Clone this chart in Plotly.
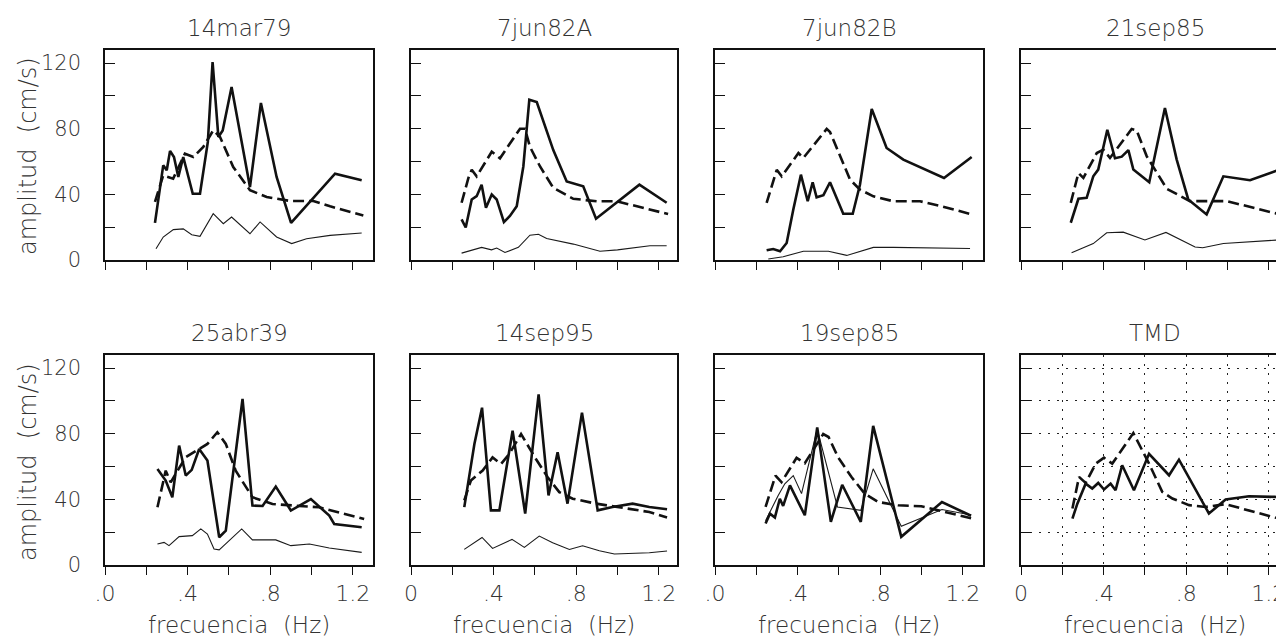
import plotly.graph_objects as go

# ---------------- data (frequency in Hz, amplitude in cm/s) ----------------
titles = ["14mar79", "7jun82A", "7jun82B", "21sep85", "25abr39", "14sep95", "19sep85", "TMD"]

f_14mar79_solid = [0.242, 0.263, 0.282, 0.299, 0.315, 0.334, 0.355, 0.379, 0.425, 0.46, 0.498, 0.521, 0.549, 0.57, 0.613, 0.702, 0.755, 0.831, 0.901, 1.114, 1.243]
a_14mar79_solid = [22.6, 40.4, 57.7, 54.7, 66.5, 62.8, 50.6, 62.8, 40.4, 40.4, 72, 120.7, 75, 79, 105.5, 44.5, 95.7, 50.6, 22.6, 52.6, 48.6]
f_14mar79_dash = [0.242, 0.282, 0.33, 0.387, 0.428, 0.476, 0.524, 0.557, 0.621, 0.702, 0.783, 0.896, 1.009, 1.09, 1.251]
a_14mar79_dash = [35.4, 51.6, 49.6, 64.8, 62.8, 68.9, 79, 75, 56.7, 42.5, 38.4, 36, 36, 32.7, 27.2]
f_14mar79_thin = [0.247, 0.282, 0.331, 0.379, 0.42, 0.46, 0.524, 0.573, 0.613, 0.702, 0.751, 0.831, 0.904, 0.976, 1.09, 1.243]
a_14mar79_thin = [6.9, 14, 18.5, 19, 15.4, 14.4, 28.2, 22.1, 26.2, 16, 23.2, 14, 10, 13, 15, 16.5]

f_7jun82A_solid = [0.245, 0.265, 0.294, 0.318, 0.342, 0.363, 0.391, 0.415, 0.45, 0.479, 0.512, 0.544, 0.573, 0.609, 0.689, 0.754, 0.834, 0.896, 1.106, 1.238]
a_7jun82A_solid = [24.8, 19.8, 36.9, 38.9, 45.9, 31.8, 39.9, 36.9, 23.1, 26.8, 32.8, 57, 97.7, 96.3, 67, 47.9, 44.9, 25.2, 45.9, 34.9]
f_7jun82A_dash = [0.245, 0.278, 0.294, 0.318, 0.391, 0.431, 0.479, 0.528, 0.552, 0.576, 0.625, 0.689, 0.786, 0.899, 0.996, 1.157, 1.245]
a_7jun82A_dash = [34.9, 50, 55, 51, 66, 62, 71, 80, 80, 69, 57, 44, 37.3, 35.8, 35.8, 30.8, 28]
f_7jun82A_thin = [0.245, 0.342, 0.39, 0.415, 0.455, 0.52, 0.576, 0.617, 0.657, 0.786, 0.915, 1.0, 1.157, 1.238]
a_7jun82A_thin = [4.2, 7.7, 6.2, 7.3, 4.6, 7.7, 15.1, 15.7, 13.1, 9.7, 5.3, 6.2, 8.7, 8.7]

f_7jun82B_solid = [0.25, 0.282, 0.315, 0.347, 0.379, 0.416, 0.449, 0.473, 0.492, 0.525, 0.557, 0.621, 0.667, 0.702, 0.759, 0.831, 0.912, 1.109, 1.243]
a_7jun82B_solid = [5.9, 6.7, 5.3, 10.4, 30.7, 52, 35.8, 47.4, 38.2, 39.5, 47.4, 28.2, 28.2, 45.9, 92, 68.3, 61.2, 50, 62.8]
f_7jun82B_dash = [0.25, 0.299, 0.323, 0.404, 0.428, 0.541, 0.557, 0.654, 0.702, 0.767, 0.864, 0.993, 1.09, 1.25]
a_7jun82B_dash = [34.8, 55, 51, 65.2, 62.2, 79.9, 78, 49, 42.9, 38.8, 35.8, 35.8, 33, 27.6]
f_7jun82B_thin = [0.258, 0.33, 0.428, 0.549, 0.638, 0.702, 0.767, 0.864, 1.235]
a_7jun82B_thin = [0.6, 2, 5.3, 5.3, 2.8, 5.3, 7.7, 7.7, 7]

f_21sep85_solid = [0.241, 0.278, 0.318, 0.35, 0.374, 0.418, 0.455, 0.488, 0.52, 0.544, 0.621, 0.697, 0.754, 0.81, 0.899, 0.98, 1.109, 1.235, 1.26]
a_21sep85_solid = [22.7, 37.3, 37.9, 51, 55.1, 79.4, 62, 63, 67, 55.1, 47.4, 92.6, 61.2, 36.9, 27.8, 51, 48.6, 54.1, 55.5]
f_21sep85_dash = [0.241, 0.278, 0.302, 0.367, 0.399, 0.431, 0.536, 0.56, 0.609, 0.706, 0.818, 0.996, 1.235, 1.26]
a_21sep85_dash = [34.8, 53, 50, 65.2, 67.3, 62.2, 79.8, 79, 63.2, 43.4, 35.9, 35.9, 28.4, 27.8]
f_21sep85_thin = [0.245, 0.3, 0.35, 0.415, 0.495, 0.6, 0.702, 0.843, 0.88, 0.98, 1.235, 1.26]
a_21sep85_thin = [4.4, 7.1, 10, 16.6, 17, 12.2, 16.8, 7.9, 7.5, 10.1, 12.2, 12.3]

f_25abr39_solid = [0.254, 0.294, 0.326, 0.359, 0.391, 0.42, 0.456, 0.496, 0.553, 0.585, 0.666, 0.714, 0.763, 0.827, 0.9, 0.997, 1.086, 1.11, 1.243]
a_25abr39_solid = [58.5, 51.5, 41.3, 72.8, 54.5, 58, 70.7, 63.7, 16.9, 21, 101.2, 36.2, 36, 47.8, 33.2, 40.2, 30.1, 25, 23]
f_25abr39_dash = [0.254, 0.278, 0.294, 0.318, 0.391, 0.496, 0.544, 0.585, 0.633, 0.714, 0.811, 0.94, 1.037, 1.255]
a_25abr39_dash = [35.2, 49.4, 57.5, 50.4, 65.7, 73.8, 80.9, 73.8, 57.5, 41.3, 37.2, 36, 35.2, 28]
f_25abr39_thin = [0.254, 0.286, 0.31, 0.359, 0.423, 0.464, 0.496, 0.528, 0.553, 0.662, 0.714, 0.827, 0.9, 0.99, 1.086, 1.243]
a_25abr39_thin = [12.8, 13.8, 11.8, 17.3, 17.9, 22, 18.9, 9.8, 9.2, 22, 15.3, 15.3, 11.8, 12.8, 10.4, 7.7]

f_14sep95_solid = [0.258, 0.307, 0.344, 0.387, 0.428, 0.492, 0.553, 0.618, 0.666, 0.71, 0.758, 0.828, 0.904, 0.976, 1.073, 1.154, 1.24]
a_14sep95_solid = [35.3, 73.7, 95.9, 33.3, 33.3, 81.8, 31.3, 104, 42.4, 68.7, 37.4, 92.9, 33.3, 35.4, 37.4, 35.4, 34]
f_14sep95_dash = [0.258, 0.29, 0.347, 0.395, 0.436, 0.476, 0.533, 0.605, 0.662, 0.718, 0.783, 0.896, 1.154, 1.24]
a_14sep95_dash = [39.4, 51.5, 57.6, 65.6, 61.6, 67.7, 79.8, 64.6, 53.5, 44.4, 40.4, 37.4, 32.3, 29]
f_14sep95_thin = [0.258, 0.344, 0.395, 0.489, 0.549, 0.621, 0.686, 0.767, 0.831, 0.912, 0.985, 1.154, 1.24]
a_14sep95_thin = [9.5, 16.8, 10.1, 15.6, 10.7, 17.6, 13.5, 9.5, 11.7, 8.7, 6.7, 7.5, 8.5]

f_19sep85_solid = [0.245, 0.266, 0.29, 0.314, 0.33, 0.363, 0.435, 0.495, 0.561, 0.616, 0.706, 0.766, 0.902, 1.099, 1.24]
a_19sep85_solid = [25.3, 31.3, 29, 40.4, 36, 48.5, 30.3, 83.9, 26.3, 48.9, 26.3, 84.8, 17.2, 38.4, 30]
f_19sep85_dash = [0.245, 0.293, 0.322, 0.395, 0.435, 0.524, 0.55, 0.596, 0.661, 0.725, 0.79, 0.886, 0.999, 1.24]
a_19sep85_dash = [35.4, 54.5, 50.5, 65.3, 62, 79.8, 78, 65.7, 53.6, 43.5, 38.4, 36.4, 35.8, 28.5]
f_19sep85_thin = [0.245, 0.275, 0.306, 0.338, 0.379, 0.419, 0.495, 0.593, 0.706, 0.766, 0.902, 1.099, 1.24]
a_19sep85_thin = [27, 35, 42.4, 49.5, 54.5, 43.5, 82.8, 35.4, 33.3, 58.6, 23.6, 33.8, 30.5]

f_TMD_solid = [0.249, 0.273, 0.313, 0.345, 0.374, 0.402, 0.434, 0.458, 0.49, 0.547, 0.62, 0.717, 0.765, 0.91, 0.991, 1.104, 1.23, 1.26]
a_TMD_solid = [28.3, 37.4, 49.6, 46.6, 50, 46, 49.6, 45.6, 60.8, 45.6, 67.8, 54.7, 64.2, 31.4, 39.9, 41.9, 41.5, 41.3]
f_TMD_dash = [0.249, 0.281, 0.313, 0.362, 0.402, 0.442, 0.544, 0.62, 0.684, 0.733, 0.814, 0.894, 0.991, 1.104, 1.23, 1.26]
a_TMD_dash = [34.4, 53.7, 50, 61.8, 65.4, 61.8, 80.4, 61.8, 44.6, 40.5, 36.5, 35.4, 37.1, 33, 28.9, 28.2]

x_tick_vals = [0, 0.2, 0.4, 0.6, 0.8, 1.0, 1.2]
x_tick_text_cols = [
    [".0", "", ".4", "", ".8", "", "1.2"],
    ["0", "", ".4", "", ".8", "", "1.2"],
    [".0", "", ".4", "", ".8", "", "1.2"],
    ["0", "", ".4", "", ".8", "", "1.2"],
]
y_tick_vals = [0, 20, 40, 60, 80, 100, 120]
y_tick_text = ["0", "", "40", "", "80", "", "120"]

panels = [
    (f_14mar79_solid, a_14mar79_solid, f_14mar79_dash, a_14mar79_dash, f_14mar79_thin, a_14mar79_thin),
    (f_7jun82A_solid, a_7jun82A_solid, f_7jun82A_dash, a_7jun82A_dash, f_7jun82A_thin, a_7jun82A_thin),
    (f_7jun82B_solid, a_7jun82B_solid, f_7jun82B_dash, a_7jun82B_dash, f_7jun82B_thin, a_7jun82B_thin),
    (f_21sep85_solid, a_21sep85_solid, f_21sep85_dash, a_21sep85_dash, f_21sep85_thin, a_21sep85_thin),
    (f_25abr39_solid, a_25abr39_solid, f_25abr39_dash, a_25abr39_dash, f_25abr39_thin, a_25abr39_thin),
    (f_14sep95_solid, a_14sep95_solid, f_14sep95_dash, a_14sep95_dash, f_14sep95_thin, a_14sep95_thin),
    (f_19sep85_solid, a_19sep85_solid, f_19sep85_dash, a_19sep85_dash, f_19sep85_thin, a_19sep85_thin),
    (f_TMD_solid, a_TMD_solid, f_TMD_dash, a_TMD_dash, None, None),
]

# ---------------- layout geometry ----------------
W, H = 1276, 642
PX_PER_HZ = 206.5
cols_px = [(105, 373), (411, 677), (715, 983), (1021, 1276)]
rows_px = [(50, 260), (355, 565)]
Y_MAX = 128

FONT = "DejaVu Sans"
TXT = "#333333"
WT = 200

def fnt(size):
    return dict(family=FONT, size=size, color=TXT, weight=WT)

fig = go.Figure()
layout = dict(
    template="none",
    width=W, height=H, margin=dict(l=0, r=0, t=0, b=0, pad=0, autoexpand=False),
    paper_bgcolor="white", plot_bgcolor="white", showlegend=False,
    font=fnt(21),
)
annotations = []

for i, (fs, as_, fd, ad, ft, at) in enumerate(panels):
    r, c = divmod(i, 4)
    n = i + 1
    xa = "x" if n == 1 else f"x{n}"
    ya = "y" if n == 1 else f"y{n}"
    x0, x1 = cols_px[c]
    y0, y1 = rows_px[r]
    xmax = (x1 - x0) / PX_PER_HZ
    tmd = (n == 8)
    if ft is not None:
        fig.add_trace(go.Scatter(x=ft, y=at, mode="lines", xaxis=xa, yaxis=ya,
                                 line=dict(color="#1a1a1a", width=1.1)))
    fig.add_trace(go.Scatter(x=fd, y=ad, mode="lines", xaxis=xa, yaxis=ya,
                             line=dict(color="#111111", width=2.6, dash="11px,5px")))
    fig.add_trace(go.Scatter(x=fs, y=as_, mode="lines", xaxis=xa, yaxis=ya,
                             line=dict(color="#111111", width=2.6)))
    xkey = "xaxis" if n == 1 else f"xaxis{n}"
    ykey = "yaxis" if n == 1 else f"yaxis{n}"
    layout[xkey] = dict(
        domain=[x0 / W, x1 / W], anchor=ya, range=[0, xmax], automargin=False,
        showline=True, linecolor="#111", linewidth=1.5, mirror=True,
        ticks="outside", ticklen=8, tickwidth=1.3, tickcolor="#111",
        tickvals=x_tick_vals, ticktext=x_tick_text_cols[c],
        showticklabels=(r == 1), ticklabelstandoff=0, ticklabeloverflow="allow",
        tickfont=fnt(22),
        zeroline=False, fixedrange=True,
        showgrid=tmd, gridcolor="#222", griddash="2px,7px", gridwidth=1.2,
    )
    layout[ykey] = dict(
        domain=[1 - y1 / H, 1 - y0 / H], anchor=xa, range=[0, Y_MAX], automargin=False,
        showline=True, linecolor="#111", linewidth=1.5, mirror=(c != 3),
        ticks="inside", ticklen=10, tickwidth=1.3, tickcolor="#111",
        tickvals=y_tick_vals, ticktext=y_tick_text,
        showticklabels=(c == 0), ticklabelstandoff=18,
        tickfont=fnt(21),
        zeroline=False, fixedrange=True,
        showgrid=tmd, gridcolor="#222", griddash="2px,7px", gridwidth=1.2,
    )
    cx = (x0 + x0 + 268) / 2 if c == 3 else (x0 + x1) / 2
    ty = 28 if r == 0 else 333
    annotations.append(dict(text=titles[i], x=cx / W, y=1 - ty / H, xref="paper", yref="paper",
                            xanchor="center", yanchor="middle", showarrow=False,
                            font=fnt(23)))
    if r == 1:
        annotations.append(dict(text="frecuencia  (Hz)", x=cx / W, y=1 - 625 / H, xref="paper", yref="paper",
                                xanchor="center", yanchor="middle", showarrow=False,
                                font=fnt(23)))

for cy in (156, 462):
    annotations.append(dict(text="amplitud  (cm/s)", x=28 / W, y=1 - cy / H, xref="paper", yref="paper",
                            xanchor="center", yanchor="middle", showarrow=False, textangle=-90,
                            font=fnt(24)))

layout["annotations"] = annotations
fig.update_layout(**layout)
fig.write_html("out.html")
